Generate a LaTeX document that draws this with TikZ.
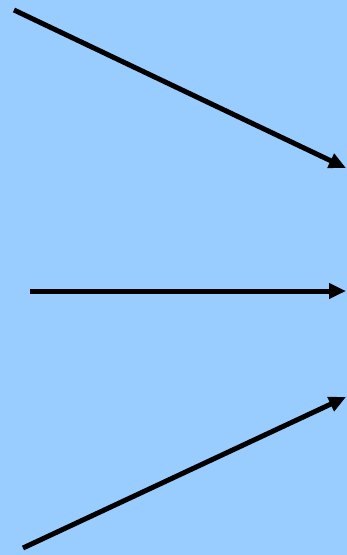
\documentclass[tikz,border=0pt]{standalone}
\usetikzlibrary{arrows.meta}
\definecolor{bgblue}{HTML}{99CCFF}
\begin{document}
\begin{tikzpicture}[x=1pt,y=-1pt,
  arr/.style={line width=5pt,-{Triangle[length=17pt,width=15pt]},draw=black}]
\fill[bgblue] (0,0) rectangle (347,555);
\useasboundingbox (0,0) rectangle (347,555);
\coordinate (a1) at (14,10);
\coordinate (b1) at (346,168);
\coordinate (a2) at (30,291);
\coordinate (b2) at (346,291);
\coordinate (a3) at (23,548);
\coordinate (b3) at (346,397);
\draw[arr] (a1) -- (b1);
\draw[arr] (a2) -- (b2);
\draw[arr] (a3) -- (b3);
\end{tikzpicture}
\end{document}
